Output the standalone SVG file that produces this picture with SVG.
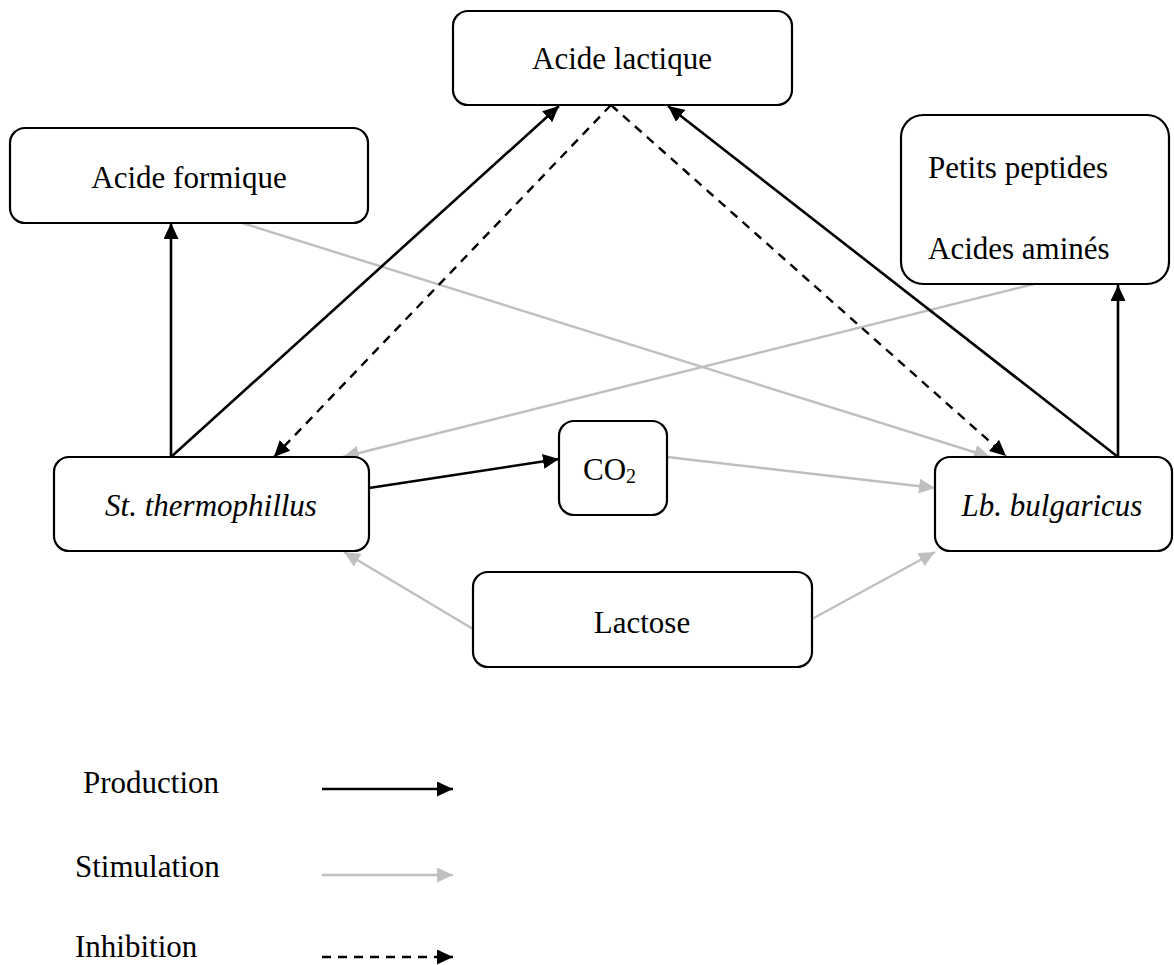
<svg xmlns="http://www.w3.org/2000/svg" width="1174" height="965" viewBox="0 0 1174 965">
<style>
.box{fill:#ffffff;stroke:#000000;stroke-width:2.2}
.t{font-family:"Liberation Serif","Times New Roman",serif;font-size:31px;fill:#000000}
.it{font-style:italic}
.prod{stroke:#000000;stroke-width:2.6;fill:none}
.stim{stroke:#bfbfbf;stroke-width:2.4;fill:none}
.inh{stroke:#000000;stroke-width:2.4;fill:none;stroke-dasharray:9,7}
</style>
<defs>
<marker id="ab" markerUnits="userSpaceOnUse" markerWidth="17" markerHeight="15" refX="16" refY="7.5" orient="auto">
<path d="M0,0 L16,7.5 L0,15 Z" fill="#000000"/>
</marker>
<marker id="ag" markerUnits="userSpaceOnUse" markerWidth="17" markerHeight="15" refX="16" refY="7.5" orient="auto">
<path d="M0,0 L16,7.5 L0,15 Z" fill="#bfbfbf"/>
</marker>
</defs>
<rect width="1174" height="965" fill="#ffffff"/>
<g id="connectors">
<line class="stim" x1="239" y1="222" x2="990" y2="457" marker-end="url(#ag)"/>
<line class="stim" x1="1034" y1="284" x2="343" y2="457" marker-end="url(#ag)"/>
<line class="stim" x1="667" y1="457" x2="935" y2="488" marker-end="url(#ag)"/>
<line class="stim" x1="473" y1="629" x2="344" y2="552" marker-end="url(#ag)"/>
<line class="stim" x1="812" y1="619" x2="935" y2="552" marker-end="url(#ag)"/>
<line class="prod" x1="171" y1="457" x2="171" y2="223" marker-end="url(#ab)"/>
<line class="prod" x1="171" y1="457" x2="559" y2="106" marker-end="url(#ab)"/>
<line class="prod" x1="1118" y1="457" x2="668" y2="106" marker-end="url(#ab)"/>
<line class="prod" x1="1118" y1="457" x2="1118" y2="285" marker-end="url(#ab)"/>
<line class="prod" x1="369" y1="488" x2="559" y2="459" marker-end="url(#ab)"/>
<line class="inh" x1="611" y1="105" x2="274" y2="457" marker-end="url(#ab)"/>
<line class="inh" x1="611" y1="105" x2="1006" y2="456" marker-end="url(#ab)"/>
</g>
<g id="acide-lactique">
<rect class="box" x="453" y="11" width="339" height="94" rx="15"/>
<text class="t" x="622" y="69" text-anchor="middle">Acide lactique</text>
</g>
<g id="acide-formique">
<rect class="box" x="10" y="128" width="358" height="95" rx="15"/>
<text class="t" x="189" y="188" text-anchor="middle">Acide formique</text>
</g>
<g id="peptides">
<rect class="box" x="901" y="115" width="268" height="169" rx="22"/>
<text class="t" x="928" y="178">Petits peptides</text>
<text class="t" x="928" y="259">Acides aminés</text>
</g>
<g id="st-thermophillus">
<rect class="box" x="54" y="457" width="315" height="94" rx="15"/>
<text class="t it" x="211" y="516" text-anchor="middle">St. thermophillus</text>
</g>
<g id="co2">
<rect class="box" x="559" y="421" width="108" height="94" rx="15"/>
<text class="t" x="583" y="480">CO<tspan font-size="20" dy="3">2</tspan></text>
</g>
<g id="lb-bulgaricus">
<rect class="box" x="935" y="457" width="237" height="94" rx="15"/>
<text class="t it" x="1052" y="516" text-anchor="middle">Lb. bulgaricus</text>
</g>
<g id="lactose">
<rect class="box" x="473" y="572" width="339" height="95" rx="15"/>
<text class="t" x="642" y="633" text-anchor="middle">Lactose</text>
</g>
<g id="legend">
<text class="t" x="83" y="793">Production</text>
<line class="prod" x1="322" y1="789" x2="453" y2="789" marker-end="url(#ab)"/>
<text class="t" x="75" y="877">Stimulation</text>
<line class="stim" x1="322" y1="875" x2="453" y2="875" marker-end="url(#ag)"/>
<text class="t" x="75" y="957">Inhibition</text>
<line class="inh" x1="322" y1="957" x2="453" y2="957" stroke-dasharray="10,9" marker-end="url(#ab)"/>
</g>
</svg>
